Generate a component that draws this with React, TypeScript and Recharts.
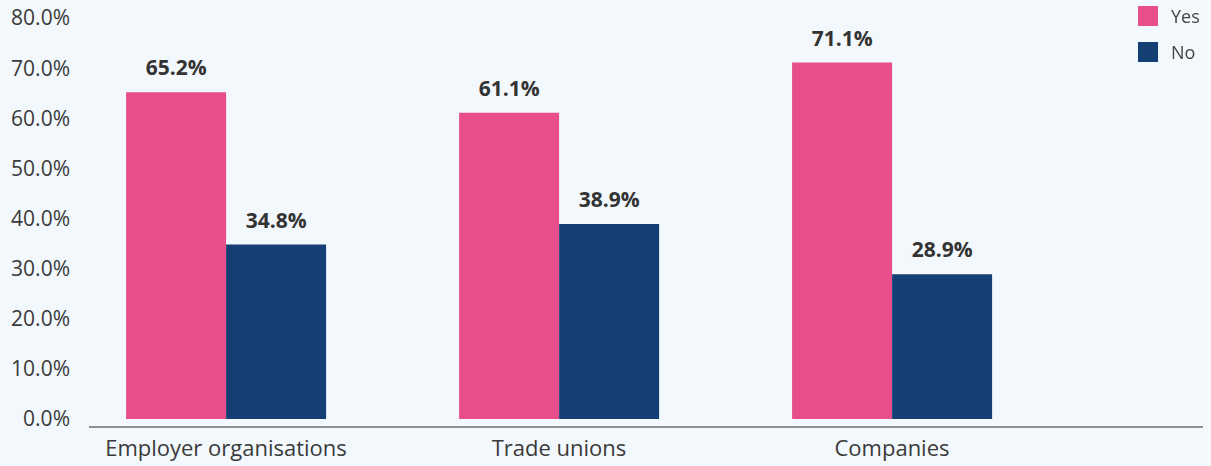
import React from "react";
import { Bar, BarChart, LabelList, XAxis, YAxis } from "recharts";

const categories = ["Employer organisations", "Trade unions", "Companies"];
const yesValues = [65.2, 61.1, 71.1];
const noValues = [34.8, 38.9, 28.9];
const yTicks = [0, 10, 20, 30, 40, 50, 60, 70, 80];

const series = [
  { key: "yes", label: "Yes", color: "#E84D8C" },
  { key: "no", label: "No", color: "#143F74" },
];

const data = categories.map((name, i) => ({ name, yes: yesValues[i], no: noValues[i] }));

const fontFamily = "'Open Sans', sans-serif";
const pct = (v: number) => `${Number(v).toFixed(1)}%`;

// legend drawn as an overlay so it doesn't eat into the plot width
function LegendBox() {
  return (
    <div
      style={{
        position: "absolute",
        top: -2,
        left: 1138,
        fontFamily,
        fontSize: 18,
        color: "#444",
      }}
    >
      {series.map((s) => (
        <div key={s.key} style={{ display: "flex", alignItems: "center", height: 36 }}>
          <span style={{ width: 20, height: 20, background: s.color, marginRight: 13 }} />
          {s.label}
        </div>
      ))}
    </div>
  );
}

export default function App() {
  return (
    <div
      style={{
        position: "fixed",
        left: 0,
        top: 0,
        width: 1211,
        height: 466,
        background: "#F2F8FC",
      }}
    >
      <BarChart
        width={1211}
        height={466}
        data={data}
        margin={{ top: 18, right: 8, bottom: 0, left: 0 }}
        barCategoryGap="20%"
        barGap={0}
      >
        <XAxis
          dataKey="name"
          height={39}
          padding={{ left: -29.5, right: 144.5 }}
          tickLine={false}
          tickSize={0}
          tickMargin={13}
          axisLine={{ stroke: "#8E9090", strokeWidth: 2 }}
          tick={{ fill: "#3A3A3A", fontSize: 22, fontFamily }}
        />
        <YAxis
          width={89}
          domain={[-1.6, 80]}
          ticks={yTicks}
          tickFormatter={pct}
          axisLine={false}
          tickLine={false}
          tickSize={0}
          tickMargin={19}
          tick={{ fill: "#3A3A3A", fontSize: 21, fontFamily }}
        />
        {series.map((s) => (
          <Bar key={s.key} dataKey={s.key} name={s.label} fill={s.color} isAnimationActive={false}>
            <LabelList
              dataKey={s.key}
              position="top"
              offset={17}
              formatter={(v: any) => pct(v)}
              style={{ fill: "#333", fontSize: 21, fontWeight: 700, fontFamily }}
            />
          </Bar>
        ))}
      </BarChart>
      <LegendBox />
    </div>
  );
}
